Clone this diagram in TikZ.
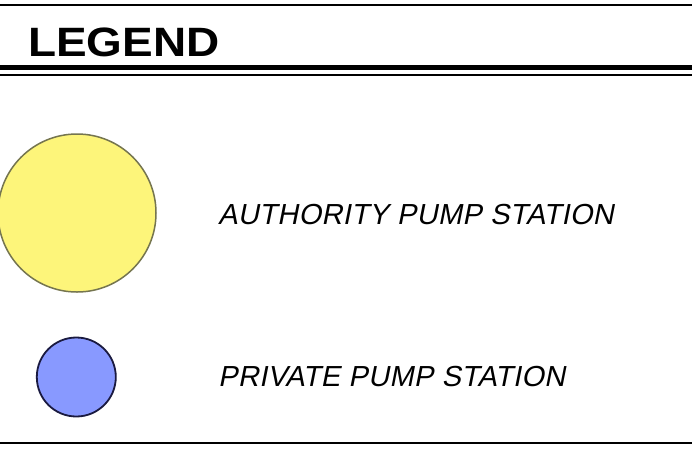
\documentclass[tikz,border=0pt]{standalone}
\usepackage{fontspec}
\setmainfont{Liberation Sans}
\newfontfamily\legendfont[FakeStretch=1.12]{Liberation Sans Bold}
\newfontfamily\cadfont[FakeSlant=0.2,LetterSpace=1.2]{Liberation Sans}
\definecolor{authfill}{HTML}{FDF57A}
\definecolor{authdraw}{HTML}{75754F}
\definecolor{privfill}{HTML}{8899FF}
\definecolor{privdraw}{HTML}{1A1A40}
\tikzset{
  rule/.style={black, line cap=butt},
  cadlabel/.style={anchor=base west, inner sep=0pt, font=\cadfont\fontsize{29}{29}\selectfont},
  station/.style={circle, inner sep=0pt}
}
\begin{document}
\begin{tikzpicture}[x=1pt,y=1pt]
\useasboundingbox (0,0) rectangle (692,-450);
\fill[white] (0,0) rectangle (692,-450);
% rules
\draw[rule, line width=2pt] (0,-5) -- (692,-5);
\draw[rule, line width=5pt] (0,-67.5) -- (692,-67.5);
\draw[rule, line width=2pt] (0,-75) -- (692,-75);
\draw[rule, line width=2.5pt] (0,-443) -- (692,-443);
% title
\node[anchor=base west, inner sep=0pt, font=\legendfont\fontsize{41}{41}\selectfont] (title) at (28,-56) {LEGEND};
% symbols
\node[station, minimum size=158pt, fill=authfill, draw=authdraw, line width=1.5pt] (auth) at (77,-213) {};
\node[station, minimum size=79pt, fill=privfill, draw=privdraw, line width=1.8pt] (priv) at (76.3,-377) {};
% labels
\node[cadlabel] (authlbl) at (218,-224) {AUTHORITY PUMP STATION};
\node[cadlabel] (privlbl) at (218,-386) {PRIVATE PUMP STATION};
\end{tikzpicture}
\end{document}
